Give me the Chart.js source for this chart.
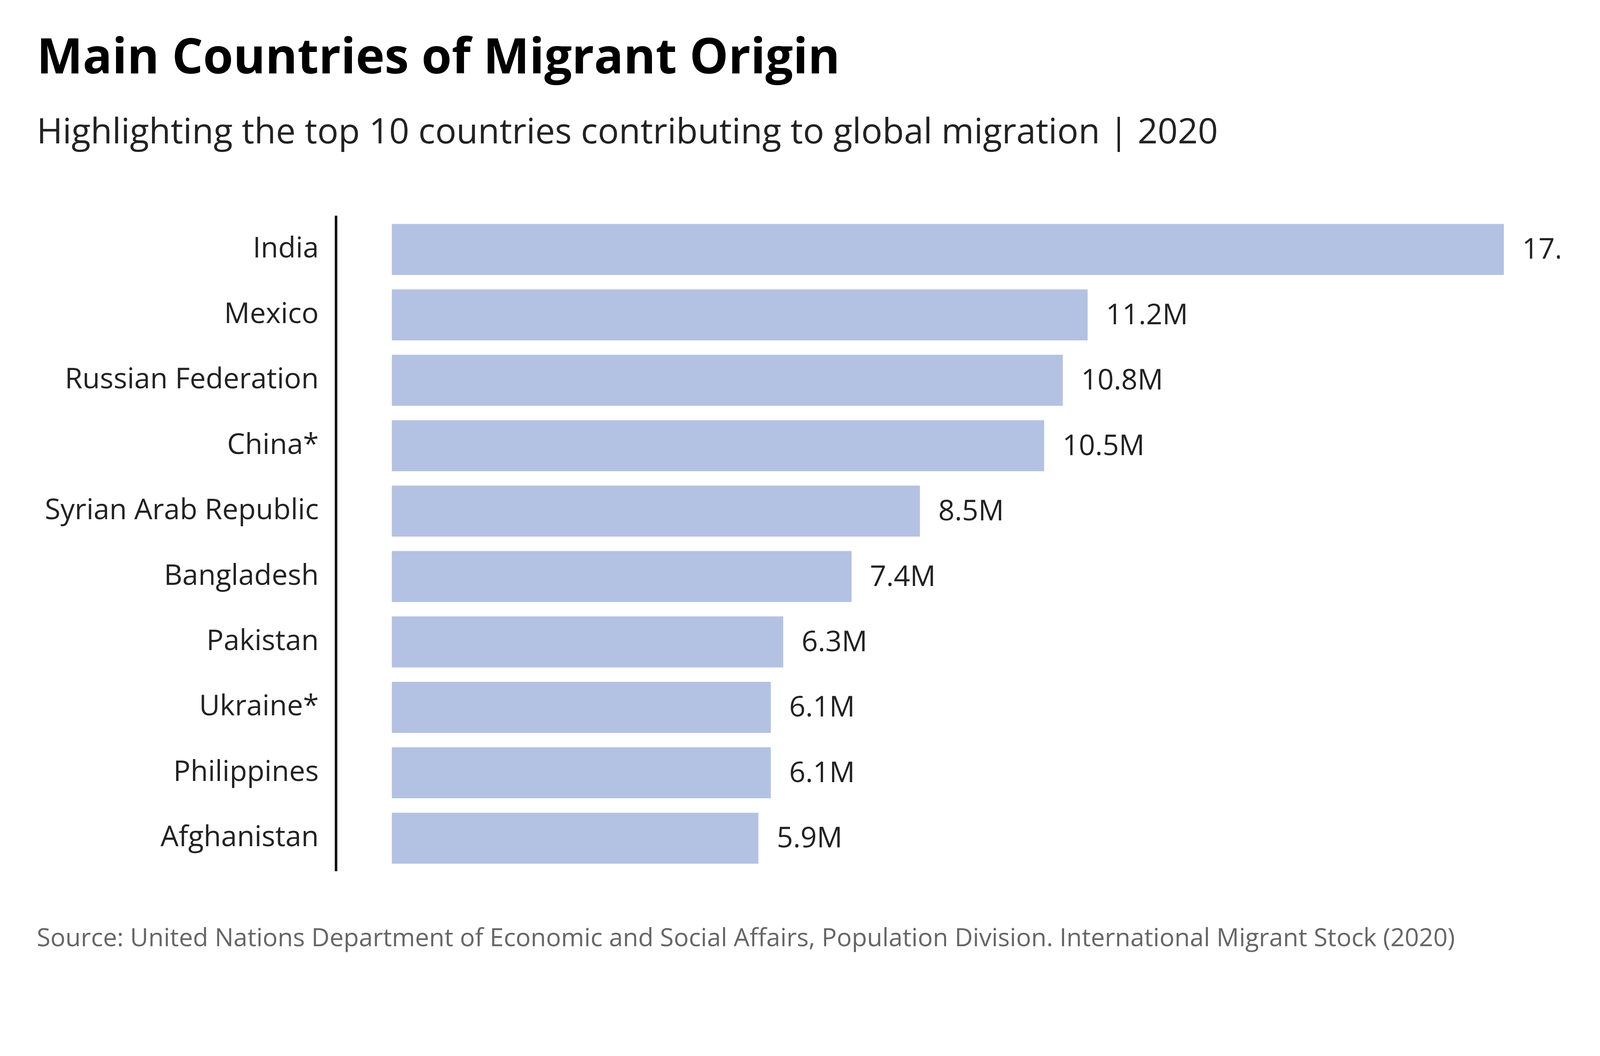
<!DOCTYPE html>
<html><head><meta charset="utf-8">
<script src="https://cdn.jsdelivr.net/npm/chart.js@4"></script>
<style>
html,body{margin:0;padding:0;background:#fff;width:4375px;height:2703px;overflow:hidden;font-family:"Open Sans",sans-serif;}
.t{position:absolute;left:94px;white-space:nowrap;}
#title{top:54px;font-size:125px;font-weight:700;color:#000;}
#sub{top:271px;font-size:90px;color:#222;}
#src{top:2354px;font-size:64px;color:#666;}
#wrap{position:absolute;left:0;top:467px;width:4375px;height:1850px;}
</style></head><body>
<div class="t" id="title">Main Countries of Migrant Origin</div>
<div class="t" id="sub">Highlighting the top 10 countries contributing to global migration | 2020</div>
<div id="wrap"><canvas id="c"></canvas></div>
<div class="t" id="src">Source: United Nations Department of Economic and Social Affairs, Population Division. International Migrant Stock (2020)</div>
<script>
const countries = ["India","Mexico","Russian Federation","China*","Syrian Arab Republic","Bangladesh","Pakistan","Ukraine*","Philippines","Afghanistan"];
const migrantsM = [17.9,11.2,10.8,10.5,8.5,7.4,6.3,6.1,6.1,5.9];
const valueLabels = ["17.9M","11.2M","10.8M","10.5M","8.5M","7.4M","6.3M","6.1M","6.1M","5.9M"];

const labelPlugin = {
  id:'vals',
  afterDatasetsDraw(chart){
    const {ctx, chartArea:a} = chart;
    const meta = chart.getDatasetMeta(0);
    ctx.save();
    ctx.beginPath(); ctx.rect(a.left, a.top, a.right-a.left, a.bottom-a.top); ctx.clip();
    ctx.font = '73px "Open Sans"'; ctx.fillStyle = '#222';
    ctx.textBaseline = 'middle'; ctx.textAlign = 'left';
    meta.data.forEach((b,i)=>{ ctx.fillText(valueLabels[i], b.x + 47, b.y + 3); });
    ctx.restore();
  }
};

new Chart(document.getElementById('c'), {
  type:'bar',
  data:{labels:countries, datasets:[{data:migrantsM.map(v=>[0,v]), backgroundColor:'#b3c2e3', barPercentage:0.78, categoryPercentage:1}]},
  options:{
    indexAxis:'y', responsive:true, maintainAspectRatio:false, animation:false,
    layout:{padding:{top:67,bottom:68,right:382,left:0}},
    plugins:{legend:{display:false}, tooltip:{enabled:false}},
    scales:{
      x:{display:false, min:-0.9, max:18.8},
      y:{grid:{display:false, drawTicks:false}, border:{display:true,color:'#111',width:6.5},
         ticks:{color:'#222', font:{family:'Open Sans', size:73}, padding:44},
         afterFit(s){ s.width = 860; }}
    }
  },
  plugins:[labelPlugin]
});
</script>
</body></html>
